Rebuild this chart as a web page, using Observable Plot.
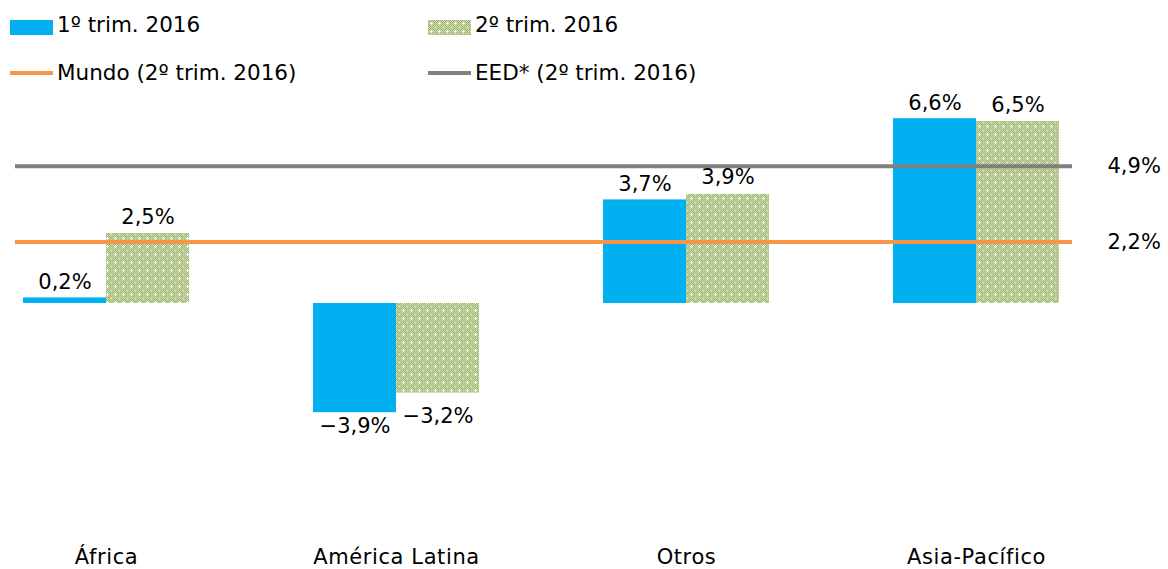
<!DOCTYPE html>
<html>
<head>
<meta charset="utf-8">
<script src="https://cdn.jsdelivr.net/npm/d3@7"></script>
<script src="https://cdn.jsdelivr.net/npm/@observablehq/plot@0.6"></script>
<style>
  html, body { margin: 0; padding: 0; background: #fff; }
  #wrap { width: 1168px; height: 569px; position: relative; overflow: hidden; font-family: "DejaVu Sans", sans-serif; color: #000; }
  #legend { position: relative; width: 1168px; height: 75px; }
  .sw { position: absolute; }
  .lt { position: absolute; font-size: 21.5px; line-height: 22px; white-space: nowrap; }
  #chart svg { display: block; overflow: visible; }
  [aria-label="x-axis tick label"] text { letter-spacing: 0.6px; }
</style>
</head>
<body>
<svg width="0" height="0" style="position:absolute">
  <defs>
    <pattern id="dots" width="8" height="8" patternUnits="userSpaceOnUse">
      <rect width="8" height="8" fill="#c8d8a8"></rect>
      <path id="chk" fill="#a3ba77"></path>
      <rect x="3" y="2" width="1" height="3" fill="#ffffff"></rect>
      <rect x="2" y="3" width="3" height="1" fill="#ffffff"></rect>
      <rect x="7" y="7" width="1" height="1" fill="#eef3e4"></rect>
    </pattern>
  </defs>
</svg>
<div id="wrap">
  <div id="legend"></div>
  <div id="chart"></div>
</div>
<script>
const categories = ["África", "América Latina", "Otros", "Asia-Pacífico"];
const q1 = [0.2, -3.9, 3.7, 6.6];
const q2 = [2.5, -3.2, 3.9, 6.5];
const worldValue = 2.2;
const eedValue = 4.9;
const seriesNames = ["1º trim. 2016", "2º trim. 2016", "Mundo (2º trim. 2016)", "EED* (2º trim. 2016)"];

const colors = { q1: "#00B0F0", q2: "url(#dots)", world: "#F79646", eed: "#808080" };

// checker pattern pixels
(function () {
  let d = "";
  for (let y = 0; y < 8; y++) for (let x = 0; x < 8; x++) {
    if ((x + y) % 2 === 0) d += `M${x},${y}h1v1h-1z`;
  }
  document.getElementById("chk").setAttribute("d", d);
})();

const rows = categories.map((c, i) => ({ category: c, q1: q1[i], q2: q2[i] }));
const fmt = v => (v < 0 ? "\u2212" : "") + Math.abs(v).toFixed(1).replace(".", ",") + "%";

// legend
const legend = document.getElementById("legend");
const items = [
  { kind: "rect", fill: colors.q1, x: 10, top: 20, text: seriesNames[0] },
  { kind: "rect", fill: "pattern", x: 428, top: 20, text: seriesNames[1] },
  { kind: "line", fill: colors.world, x: 10, top: 71, text: seriesNames[2] },
  { kind: "line", fill: colors.eed, x: 428, top: 71, text: seriesNames[3] }
];
items.forEach((it) => {
  const sw = document.createElement("div");
  sw.className = "sw";
  sw.style.left = it.x + "px";
  sw.style.width = "43px";
  sw.style.top = it.top + "px";
  if (it.kind === "rect") {
    sw.style.height = "15px";
    if (it.fill === "pattern") {
      sw.innerHTML = '<svg width="43" height="15" style="display:block"><rect width="43" height="15" fill="url(#dots)"></rect></svg>';
    } else sw.style.background = it.fill;
  } else {
    sw.style.height = "4px";
    sw.style.background = it.fill;
  }
  legend.appendChild(sw);
  const t = document.createElement("span");
  t.className = "lt";
  t.textContent = it.text;
  t.style.left = (it.x + 47) + "px";
  t.style.top = (it.kind === "rect" ? 14 : 62) + "px";
  legend.appendChild(t);
});

const W = 1168, H = 494, mL = 15, mR = 96, mT = 32, mB = 42;
const pIn = 0.4276, pOut = 0.0362, al = 0.38;
const half = d3.scaleBand().domain(categories).range([mL, W - mR]).paddingInner(pIn).paddingOuter(pOut).align(al).bandwidth() / 2;

const chart = Plot.plot({
  width: W, height: H,
  marginTop: mT, marginBottom: mB, marginLeft: mL, marginRight: mR,
  style: { fontFamily: "DejaVu Sans", fontSize: "21px", color: "#000", background: "#fff", overflow: "visible" },
  x: { domain: categories, paddingInner: pIn, paddingOuter: pOut, align: al, label: null },
  y: { domain: [-8, 7], axis: null },
  marks: [
    Plot.barY(rows, { x: "category", y: "q1", fill: colors.q1, insetRight: half }),
    Plot.barY(rows, { x: "category", y: "q2", fill: colors.q2, insetLeft: half }),
    Plot.ruleY([eedValue], { y: d => d, stroke: colors.eed, strokeWidth: 4 }),
    Plot.ruleY([worldValue], { y: d => d, stroke: colors.world, strokeWidth: 4 }),
    Plot.text(rows.filter(d => d.q1 >= 0), { x: "category", y: "q1", text: d => fmt(d.q1), dx: -half / 2, dy: -9, lineAnchor: "bottom", fill: "#000" }),
    Plot.text(rows.filter(d => d.q1 < 0), { x: "category", y: "q1", text: d => fmt(d.q1), dx: -half / 2, dy: 5, lineAnchor: "top", fill: "#000" }),
    Plot.text(rows.filter(d => d.q2 >= 0), { x: "category", y: "q2", text: d => fmt(d.q2), dx: half / 2, dy: -10, lineAnchor: "bottom", fill: "#000" }),
    Plot.text(rows.filter(d => d.q2 < 0), { x: "category", y: "q2", text: d => fmt(d.q2), dx: half / 2, dy: 15, lineAnchor: "top", fill: "#000" }),
    Plot.text([eedValue, worldValue], { y: d => d, text: d => fmt(d), frameAnchor: "right", textAnchor: "start", dx: 35, lineAnchor: "middle", fill: "#000" }),
    Plot.axisX({ tickSize: 0, tickPadding: 22, label: null, fill: "#000" })
  ]
});
document.getElementById("chart").appendChild(chart);
</script>
</body>
</html>
